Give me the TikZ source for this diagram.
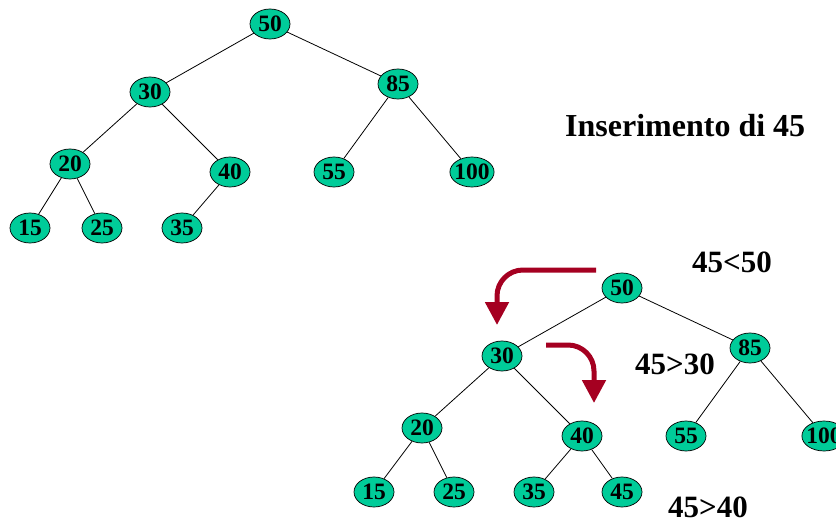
\documentclass[tikz,border=0pt]{standalone}
\usepackage{fontspec}
\setmainfont{Liberation Serif}
\usepackage{xcolor}
\usepackage{tikz}
\usetikzlibrary{shapes.geometric,arrows.meta}
\definecolor{keyfill}{HTML}{00CC99}
\definecolor{path}{HTML}{A50021}
\tikzset{
  key/.style={ellipse, draw=black, line width=0.7pt, fill=keyfill,
    minimum width=40pt, minimum height=30pt, inner xsep=-2pt, inner ysep=0pt,
    font=\fontsize{23.5}{23.5}\selectfont\bfseries},
  edge/.style={draw=black, line width=0.8pt},
  lab/.style={anchor=base west, inner sep=0pt, font=\fontsize{31}{31}\selectfont\bfseries},
  walk/.style={draw=path, line width=5pt, rounded corners=26pt,
    -{Triangle[width=23pt,length=23pt]}},
}

\begin{document}
\begin{tikzpicture}[x=1pt,y=-1pt]
  \useasboundingbox (0,0) rectangle (836,524);

  % tree before the insertion
  \node[key] (a50)  at (270,24)  {50};
  \node[key] (a30)  at (150,92)  {30};
  \node[key] (a85)  at (398,84)  {85};
  \node[key] (a20)  at (70,164)  {20};
  \node[key] (a40)  at (230,172) {40};
  \node[key] (a55)  at (334,172) {55};
  \node[key] (a100) at (472,172) {100};
  \node[key] (a15)  at (30,228)  {15};
  \node[key] (a25)  at (102,228) {25};
  \node[key] (a35)  at (182,228) {35};
  \foreach \p/\c in {a50/a30,a50/a85,a30/a20,a30/a40,a85/a55,a85/a100,
                     a20/a15,a20/a25,a40/a35}
    \draw[edge] (\p) -- (\c);

  \node[lab, font=\fontsize{32}{32}\selectfont\bfseries] (title) at (565,137) {Inserimento di 45};

  % tree after the insertion
  \node[key] (b50)  at (622,288) {50};
  \node[key] (b30)  at (502,356) {30};
  \node[key] (b85)  at (750,348) {85};
  \node[key] (b20)  at (422,428) {20};
  \node[key] (b40)  at (582,436) {40};
  \node[key] (b55)  at (686,436) {55};
  \node[key] (b100) at (824,436) {100};
  \node[key] (b15)  at (374,492) {15};
  \node[key] (b25)  at (454,492) {25};
  \node[key] (b35)  at (534,492) {35};
  \node[key] (b45)  at (622,492) {45};
  \foreach \p/\c in {b50/b30,b50/b85,b30/b20,b30/b40,b85/b55,b85/b100,
                     b20/b15,b20/b25,b40/b35,b40/b45}
    \draw[edge] (\p) -- (\c);

  % comparisons along the way down
  \node[lab] (c1) at (692,272) {45<50};
  \node[lab] (c2) at (635,374) {45>30};
  \node[lab] (c3) at (668,517) {45>40};

  \coordinate (s1) at (596,270);
  \coordinate (e1) at (497,325);
  \coordinate (s2) at (546,345);
  \coordinate (e2) at (594,403);
  \draw[walk] (s1) -| (e1);
  \draw[walk] (s2) -| (e2);
\end{tikzpicture}
\end{document}
